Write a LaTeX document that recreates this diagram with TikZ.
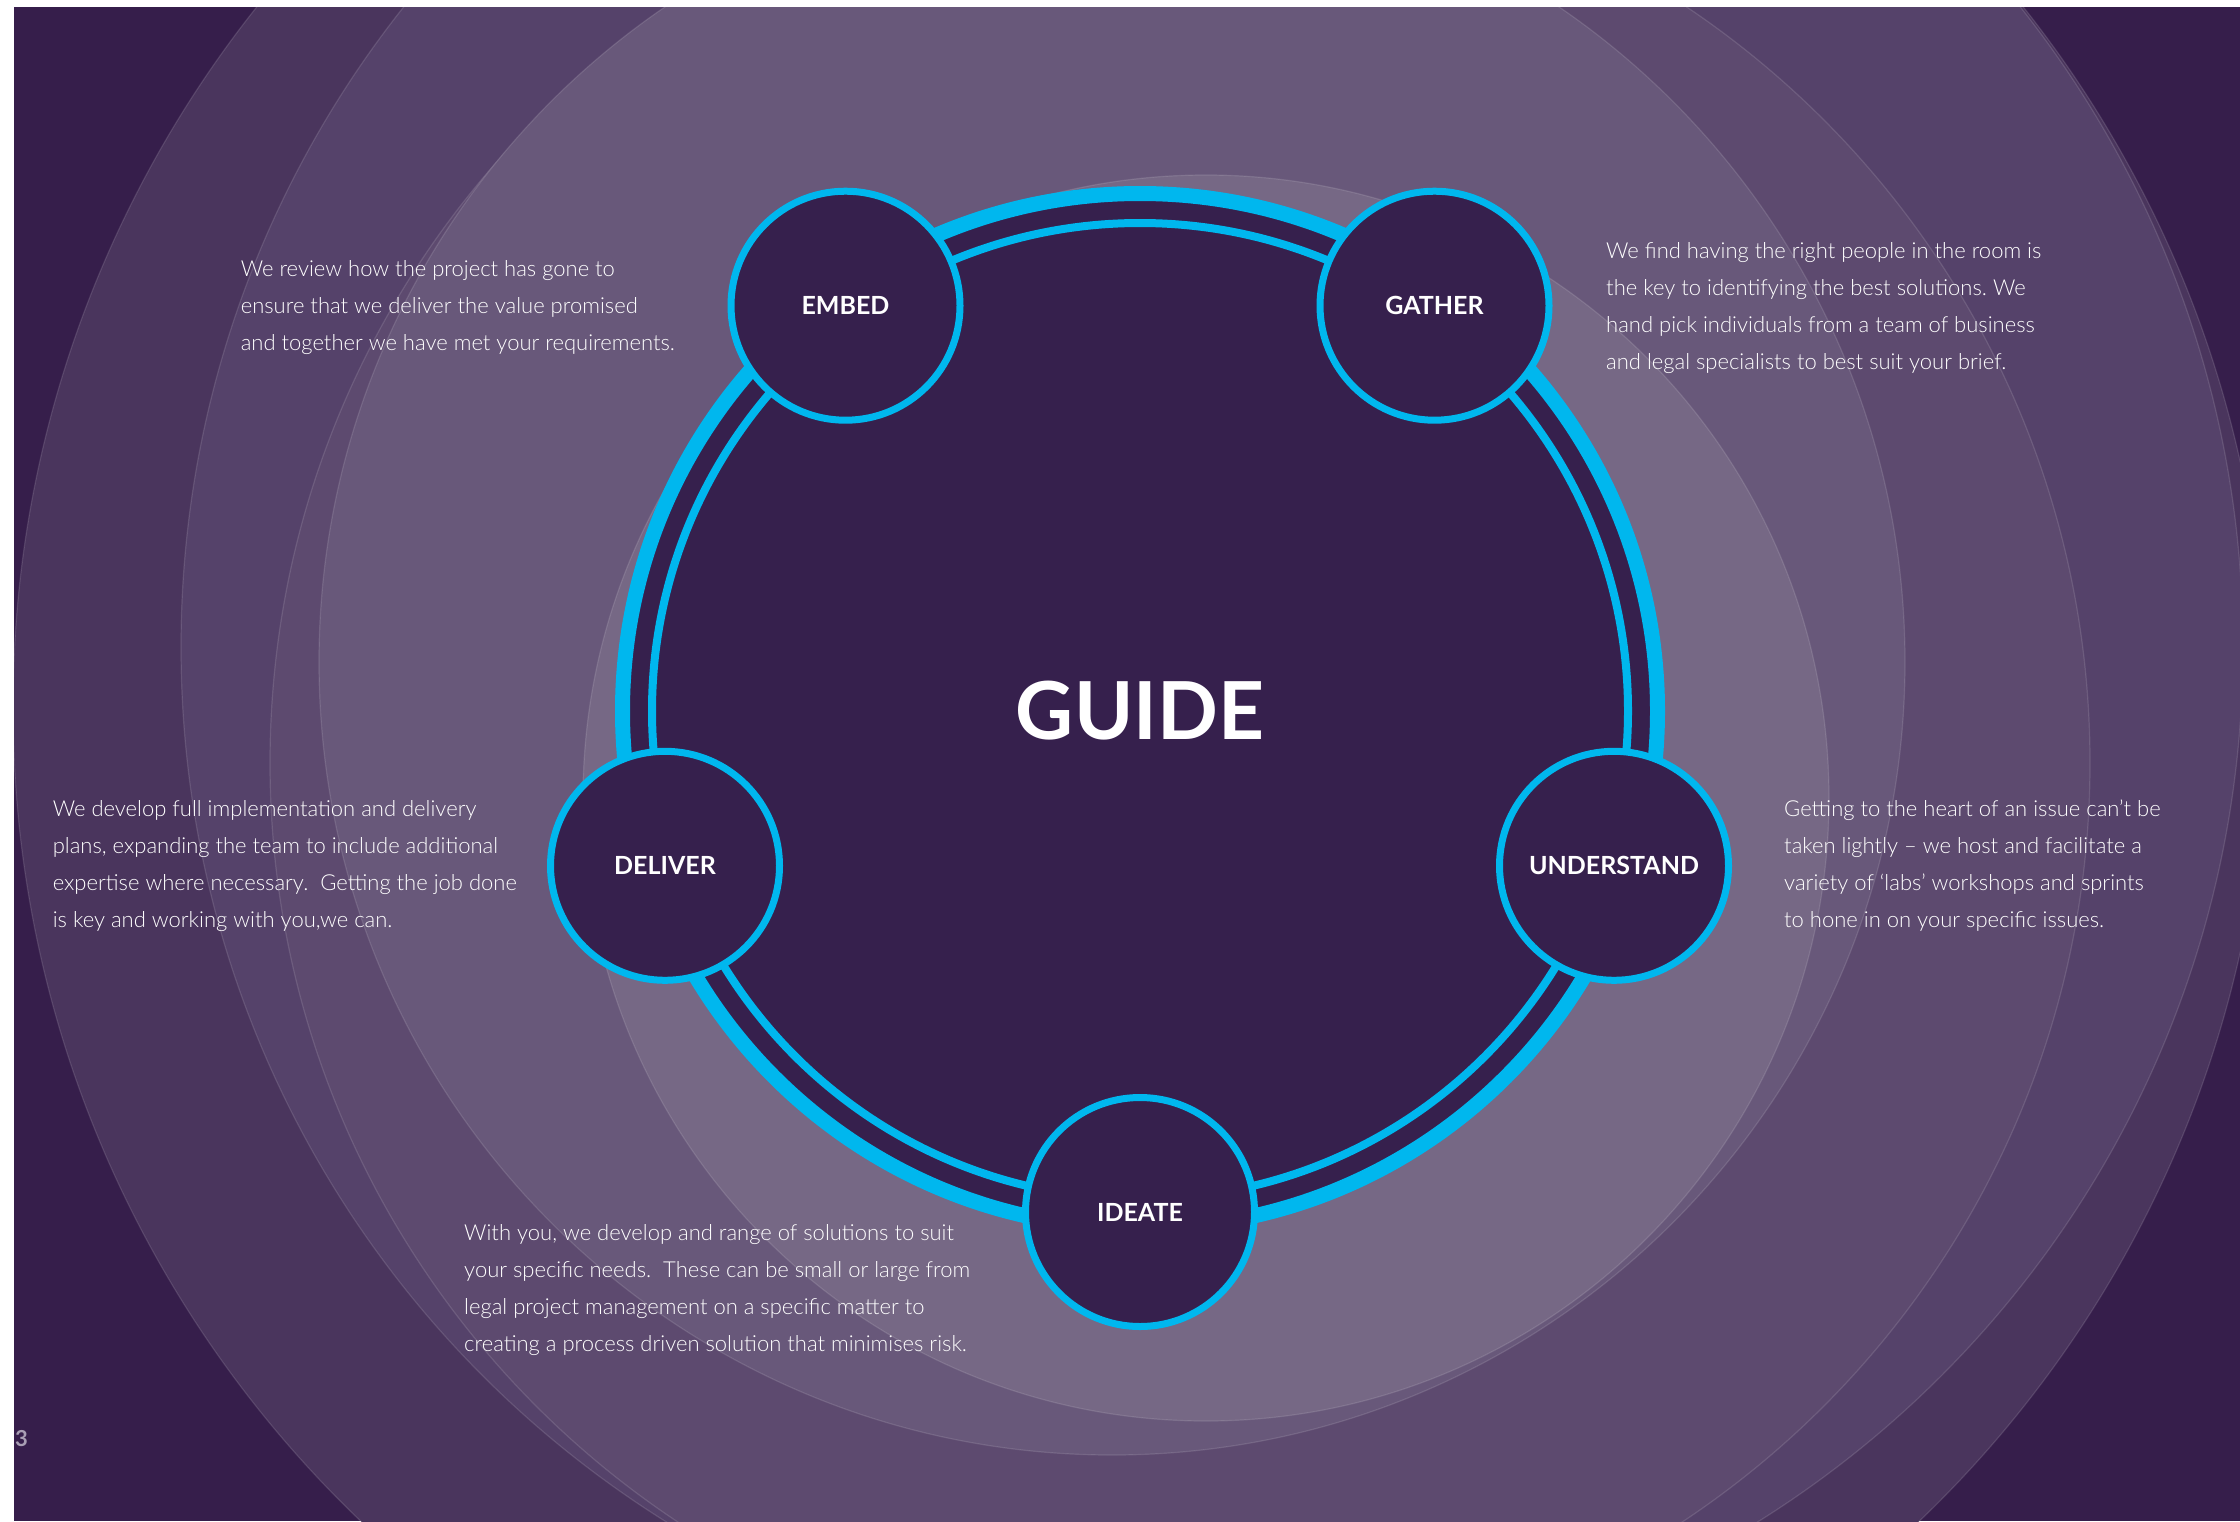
\documentclass[tikz,border=0pt]{standalone}
\usepackage{fontspec}
\setmainfont{Lato}
\newfontfamily\bodyfont{Lato Light}
\newfontfamily\headfont{Lato}
\frenchspacing
\definecolor{pagebg}{HTML}{361E4B}
\definecolor{bgA}{HTML}{4A355D}
\definecolor{bgB}{HTML}{55426A}
\definecolor{bgC}{HTML}{5D4A6F}
\definecolor{bgD}{HTML}{68587A}
\definecolor{bgE}{HTML}{766885}
\definecolor{disk}{HTML}{36204D}
\definecolor{ringcyan}{HTML}{00B7EE}
\definecolor{pagenum}{HTML}{A89EB3}
\tikzset{
  bgcircle/.style={draw=white, draw opacity=0.12, line width=1.2pt},
  stagebox/.style={circle, minimum size=229pt, inner sep=0pt, fill=disk, draw=ringcyan, line width=7pt,
     text=white, font=\headfont\bfseries\fontsize{25}{30}\selectfont},
  bodytext/.style={align=left, inner sep=0pt, text=white, anchor=base west,
     font=\bodyfont\frenchspacing\fontsize{22}{37.3}\selectfont},
  thickring/.style={draw=ringcyan, line width=15pt},
  thinring/.style={draw=ringcyan, line width=8pt}
}
\begin{document}
\begin{tikzpicture}[x=1pt,y=-1pt]
\useasboundingbox (0,0) rectangle (2240,1521);
\fill[white] (0,0) rectangle (2240,1521);
\begin{scope}
  \clip (14,7) rectangle (2240,1521);
  \fill[pagebg] (14,7) rectangle (2240,1521);
  \fill[bgA, bgcircle] (1140,707) circle (1127);
  \fill[bgB, bgcircle] (1212,647) circle (1031);
  \fill[bgC, bgcircle] (1180,763) circle (910);
  \fill[bgD, bgcircle] (1112,662) circle (793);
  \fill[bgE, bgcircle] (1206,798) circle (623);
\end{scope}
% main disk and rings
\coordinate (c) at (1140,711);
\fill[disk] (c) circle (512);
\draw[thickring] (c) circle (517.5);
\draw[thinring] (c) circle (488);
\node[text=white, inner sep=0pt, font=\headfont\bfseries\fontsize{80}{90}\selectfont] (guide) at (c) {GUIDE};
% stages
\node[stagebox] (embed) at (845.5,305.7) {EMBED};
\node[stagebox] (gather) at (1434.5,305.7) {GATHER};
\node[stagebox] (understand) at (1614,865.8) {UNDERSTAND};
\node[stagebox] (ideate) at (1140,1212) {IDEATE};
\node[stagebox] (deliver) at (665,865.8) {DELIVER};
% descriptions (anchored at the baseline of the last line)
\node[bodytext] (embedtxt) at (240.6,350.6) {We review how the project has gone to\\ensure that we deliver the value promised\\and together we have met your requirements.};
\node[bodytext] (gathertxt) at (1606,369.9) {We find having the right people in the room is\\the key to identifying the best solutions. We\\hand pick individuals from a team of business\\and legal specialists to best suit your brief.};
\node[bodytext] (delivertxt) at (52.6,927.9) {We develop full implementation and delivery\\plans, expanding the team to include additional\\expertise where necessary.~ Getting the job done\\is key and working with you,we can.};
\node[bodytext] (understandtxt) at (1784,927.9) {Getting to the heart of an issue can’t be\\taken lightly – we host and facilitate a\\variety of ‘labs’ workshops and sprints\\to hone in on your specific issues.};
\node[bodytext] (ideatetxt) at (464,1351.9) {With you, we develop and range of solutions to suit\\your specific needs.~ These can be small or large from\\legal project management on a specific matter to\\creating a process driven solution that minimises risk.};
\node[anchor=base west, inner sep=0pt, text=pagenum, font=\headfont\bfseries\fontsize{22}{24}\selectfont] (pnum) at (15,1446) {3};
\end{tikzpicture}
\end{document}
